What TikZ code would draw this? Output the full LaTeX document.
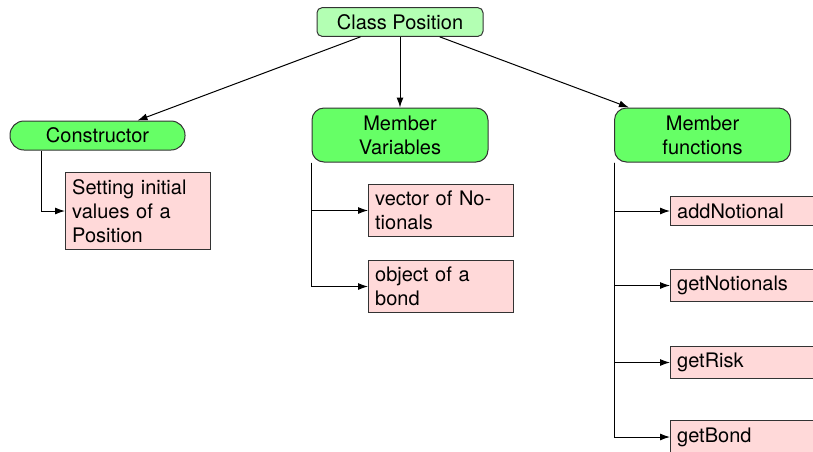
\documentclass[tikz,border=0pt]{standalone}
\usepackage{fontspec}
\setmainfont{TeX Gyre Heros}
\usetikzlibrary{arrows.meta,calc}
\definecolor{topgreen}{HTML}{B3FFB3}
\definecolor{nodegreen}{HTML}{66FF66}
\definecolor{leafpink}{HTML}{FFD9D9}
\tikzset{
  base/.style={draw=black!80, line width=0.5pt, font=\fontsize{10}{12}\selectfont, inner sep=3.33pt},
  topbox/.style={base, fill=topgreen, rounded corners=2.5pt, minimum width=83pt, minimum height=14pt},
  pill/.style={base, fill=nodegreen, rounded corners=7pt, minimum width=87.5pt, minimum height=14.5pt},
  groupbox/.style={base, fill=nodegreen, rounded corners=6pt, minimum width=88pt, minimum height=27pt, align=center},
  leaf/.style={base, fill=leafpink, anchor=west, text width=65.8pt, align=left},
  conn/.style={black, line width=0.5pt, -{Latex[length=5pt,width=3.5pt]}},
}
\begin{document}
\begin{tikzpicture}[x=0.5pt, y=-0.5pt]
\clip (0,0) rectangle (813,451);
\useasboundingbox (0,0) rectangle (813,451);

\node[topbox] (cp) at (400,22) {Class Position};
\node[pill] (cons) at (97.5,135.5) {Constructor};
\node[groupbox] (mv) at (400,135) {Member\\Variables};
\node[groupbox] (mf) at (702.5,135) {Member\\functions};

\node[leaf] (set) at (65,211) {Setting initial\\values of a\\Position};
\node[leaf] (vec) at (368,210.5) {vector of No-\\tionals};
\node[leaf] (obj) at (368,286.5) {object of a\\bond};

\node[leaf] (add) at (670,211) {addNotional};
\node[leaf] (gno) at (670,285.5) {getNotionals};
\node[leaf] (gri) at (670,362.5) {getRisk};
\node[leaf] (gbo) at (670,437) {getBond};

\draw[conn] (cp) -- (cons);
\draw[conn] (cp) -- (mv);
\draw[conn] (cp) -- (mf);

\coordinate (consfoot) at ($(cons.south west)+(32,0)$);
\draw[conn] (consfoot) |- (set.west);

\draw[conn] (mv.south west) |- (vec.west);
\draw[conn] (mv.south west) |- (obj.west);

\draw[conn] (mf.south west) |- (add.west);
\draw[conn] (mf.south west) |- (gno.west);
\draw[conn] (mf.south west) |- (gri.west);
\draw[conn] (mf.south west) |- (gbo.west);
\end{tikzpicture}
\end{document}
